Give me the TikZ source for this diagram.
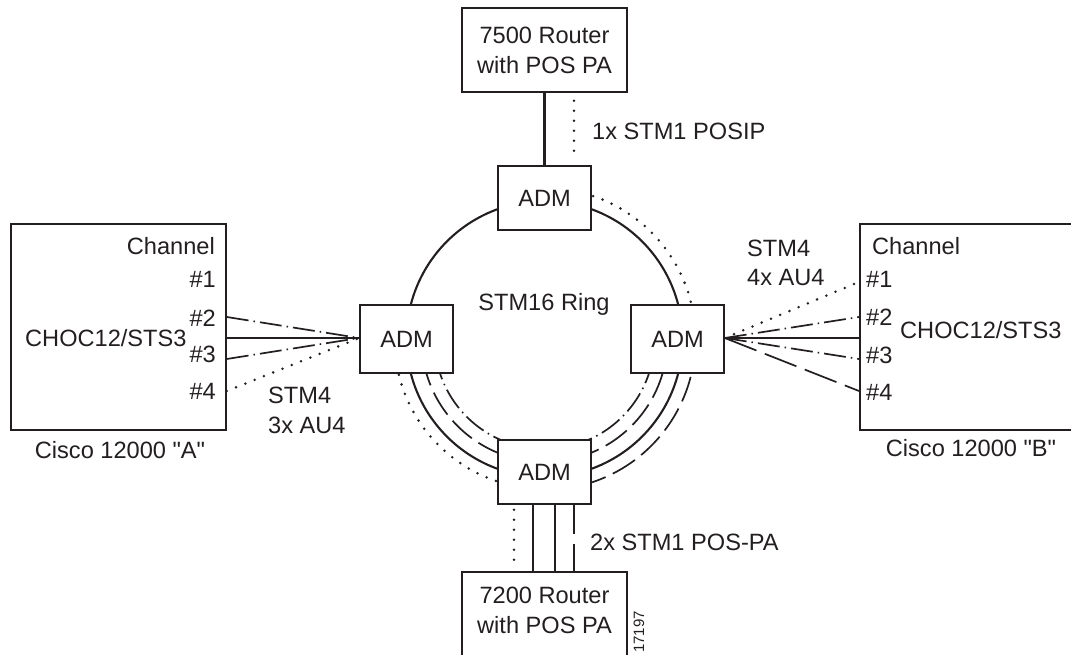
\documentclass[tikz,border=0pt]{standalone}
\usepackage{fontspec}
\setmainfont{Liberation Sans}
\usetikzlibrary{calc}
\definecolor{ink}{HTML}{231F20}
\newcommand\sq{\XeTeXglyph\XeTeXcharglyph"22\relax}
\pgfdeclarelayer{paper}
\pgfdeclarelayer{wires}
\pgfsetlayers{paper,wires,main}
\begin{document}
\begin{tikzpicture}[x=1pt,y=1pt,
  box/.style={draw=ink, line width=1.6pt, fill=white, inner sep=0pt},
  lbl/.style={text=ink, inner sep=0pt, font=\fontsize{23.6}{30}\selectfont},
  tiny/.style={text=ink, inner sep=0pt, font=\fontsize{15}{18}\selectfont},
  solidln/.style={draw=ink, line width=2.1pt},
  dotln/.style={draw=ink, line width=2.8pt, line cap=round, dash pattern=on 0pt off 10pt},
  dashdotln/.style={draw=ink, line width=1.7pt, dash pattern=on 22pt off 5pt on 1.5pt off 5pt},
  longdashln/.style={draw=ink, line width=1.7pt, dash pattern=on 34pt off 9pt},
]
\useasboundingbox (0,0) rectangle (1071,654);
\begin{pgfonlayer}{paper}
\fill[white] (0,0) rectangle (1071,654);
\end{pgfonlayer}
\clip (0,0) rectangle (1071,654);

% ---- boxes ----
\node[box, lbl, align=center, minimum width=165, minimum height=84] (r75) at (544.5,604) {7500 Router\\with POS PA};
\node[box, lbl, minimum width=93, minimum height=64] (admt) at (544.5,456) {ADM};
\node[box, lbl, minimum width=93, minimum height=68] (adml) at (406.5,315) {ADM};
\node[box, lbl, minimum width=93, minimum height=68] (admr) at (677.5,315) {ADM};
\node[box, lbl, minimum width=93, minimum height=64] (admb) at (544.5,182) {ADM};
\node[box, minimum width=165, minimum height=100, anchor=north] (r72) at (544.5,83) {};
\node[lbl, align=center] (r72t) at (544.5,43.5) {7200 Router\\with POS PA};
\node[box, minimum width=215, minimum height=206] (cl) at (118.5,327) {};
\node[box, minimum width=230, minimum height=206, anchor=west] (cr) at (859,327) {};

% ---- ring and connectors ----
\begin{pgfonlayer}{wires}
\coordinate (C) at (544.5,315);
\draw[solidln] (C) circle[radius=138];
\draw[dotln] ($(C)+(75:151)$) arc[start angle=75, end angle=10, radius=151];
\draw[dotln] ($(C)+(190:150)$) arc[start angle=190, end angle=256, radius=150];
\draw[longdashln, dash pattern=on 26pt off 8pt] ($(C)+(190:123)$) arc[start angle=190, end angle=256, radius=123];
\draw[dashdotln] ($(C)+(190:110)$) arc[start angle=190, end angle=256, radius=110];
\draw[dashdotln] ($(C)+(284:110)$) arc[start angle=284, end angle=350, radius=110];
\draw[longdashln, dash pattern=on 26pt off 8pt] ($(C)+(284:123)$) arc[start angle=284, end angle=350, radius=123];
\draw[longdashln, dash pattern=on 26pt off 8pt] ($(C)+(284:151)$) arc[start angle=284, end angle=350, radius=151];

\draw[solidln] (r75.south) -- (admt.north);
\draw[dotln] ($(r75.south)+(29.5,-8)$) -- ($(admt.north)+(29.5,8)$);

\draw[dotln] ($(admb.south)+(-30.5,-5)$) -- ($(r72.north)+(-30.5,8)$);
\draw[solidln] ($(admb.south)+(-11.5,0)$) -- ($(r72.north)+(-11.5,0)$);
\draw[solidln] ($(admb.south)+(10.5,0)$) -- ($(r72.north)+(10.5,0)$);
\draw[longdashln, dash pattern=on 29pt off 10pt] ($(admb.south)+(29.5,0)$) -- ($(r72.north)+(29.5,0)$);

\coordinate (lc) at ($(adml.west)+(0,1)$);
\draw[dashdotln] ($(cl.east)+(0,10)$) -- (lc);
\draw[solidln] ($(cl.east)+(0,-11)$) -- (lc);
\draw[dashdotln] ($(cl.east)+(0,-32)$) -- (lc);
\draw[dotln] ($(cl.east)+(0,-64)$) -- (lc);

\coordinate (rc) at ($(admr.east)+(0,1)$);
\draw[dotln] (rc) -- ($(cr.west)+(0,45)$);
\draw[dashdotln] (rc) -- ($(cr.west)+(0,10)$);
\draw[solidln] (rc) -- ($(cr.west)+(0,-11)$);
\draw[dashdotln] (rc) -- ($(cr.west)+(0,-32)$);
\draw[longdashln] (rc) -- ($(cr.west)+(0,-64)$);
\end{pgfonlayer}

% ---- labels ----
\node[lbl, anchor=base] (ring) at (544,343) {STM16 Ring};
\node[lbl, anchor=base west] (l75) at (592,514) {1x STM1 POSIP};
\node[lbl, anchor=base west] (l72) at (590,104) {2x STM1 POS-PA};

\node[lbl, anchor=base east] (clch) at (215,399) {Channel};
\node[lbl, anchor=base east] (cl1) at (216,366) {\#1};
\node[lbl, anchor=base east] (cl2) at (216,327) {\#2};
\node[lbl, anchor=base east] (cl3) at (216,291) {\#3};
\node[lbl, anchor=base east] (cl4) at (216,254) {\#4};
\node[lbl, anchor=base west] (clc) at (25,307) {CHOC12/STS3};
\node[lbl, anchor=base] (cln) at (120,196) {Cisco 12000 \sq A\sq};
\node[lbl, anchor=base west] (ls1) at (268,251) {STM4};
\node[lbl, anchor=base west] (ls2) at (268,221) {3x AU4};

\node[lbl, anchor=base west] (crch) at (872,399) {Channel};
\node[lbl, anchor=base west] (cr1) at (866,366) {\#1};
\node[lbl, anchor=base west] (cr2) at (866,328) {\#2};
\node[lbl, anchor=base west] (cr3) at (866,290) {\#3};
\node[lbl, anchor=base west] (cr4) at (866,253) {\#4};
\node[lbl, anchor=base west] (crc) at (900,315) {CHOC12/STS3};
\node[lbl, anchor=base] (crn) at (971,198) {Cisco 12000 \sq B\sq};
\node[lbl, anchor=base west] (rs1) at (747,397) {STM4};
\node[lbl, anchor=base west] (rs2) at (747,368) {4x AU4};

\node[tiny, rotate=90] (fig) at (639,22) {17197};
\end{tikzpicture}
\end{document}
